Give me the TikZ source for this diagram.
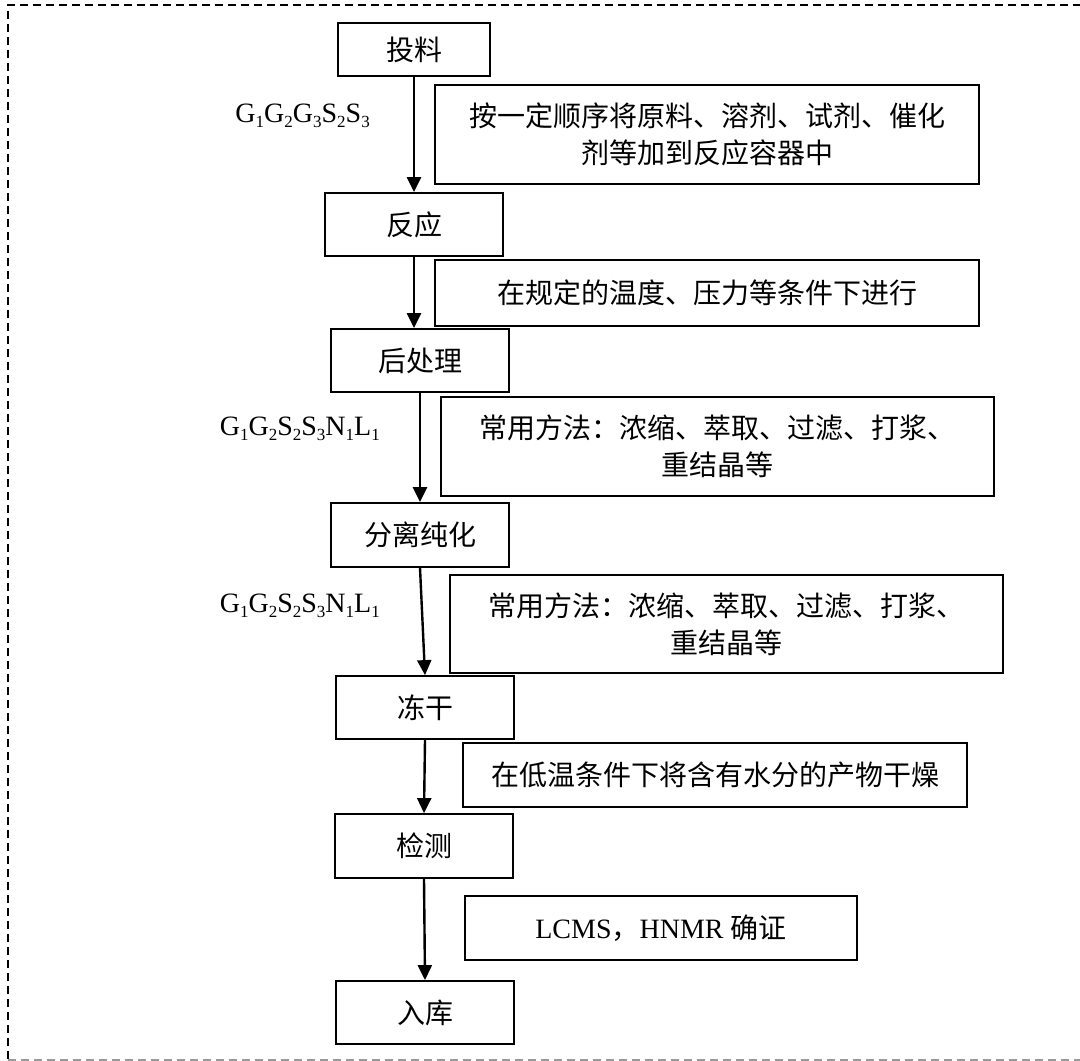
\documentclass[tikz,border=0pt]{standalone}
\usepackage{fontspec}
\setmainfont{Liberation Serif}
\newfontfamily\cjk{Noto Sans CJK SC}
\usetikzlibrary{arrows.meta}
\newcommand\sbs[1]{\raisebox{-0.18em}{\fontsize{17bp}{17bp}\selectfont #1}}
\begin{document}
\begin{tikzpicture}[x=1bp,y=-1bp,
  every node/.style={font=\fontsize{28bp}{37bp}\selectfont},
  stepbox/.style={draw,line width=1.8bp,minimum width=178bp,minimum height=63bp,inner sep=0pt,font=\cjk\fontsize{28bp}{37bp}\selectfont},
  notebox/.style={draw,line width=1.8bp,inner sep=0pt,align=center,font=\cjk\fontsize{28bp}{37bp}\selectfont},
  flow/.style={line width=2.4bp,-{Triangle[length=15bp,width=14bp]}},
  lbl/.style={anchor=base east,inner sep=0pt}]
\useasboundingbox (0,0) rectangle (1080,1061);
% frame
\draw[line width=1.6bp,dash pattern=on 8bp off 5bp] (8,1059) -- (8,5) -- (1080,5);
\draw[line width=1.2bp,gray!80,dash pattern=on 8bp off 5bp] (8,1060) -- (1080,1060);
% steps
\node[stepbox,minimum width=152bp,minimum height=53bp] (n1) at (414,49.5) {投料};
\node[stepbox] (n2) at (414,224.5) {反应};
\node[stepbox] (n3) at (420,360.5) {后处理};
\node[stepbox,minimum height=64bp] (n4) at (420,535) {分离纯化};
\node[stepbox] (n5) at (425,707.5) {冻干};
\node[stepbox,minimum height=64bp] (n6) at (424,846) {检测};
\node[stepbox] (n7) at (425,1012.5) {入库};
% notes
\node[notebox,minimum width=544bp,minimum height=99bp] (m1) at (707,134.5) {按一定顺序将原料、溶剂、试剂、催化\\剂等加到反应容器中};
\node[notebox,minimum width=544bp,minimum height=66bp] (m2) at (707,293) {在规定的温度、压力等条件下进行};
\node[notebox,minimum width=553bp,minimum height=99bp] (m3) at (717.5,446.5) {常用方法：浓缩、萃取、过滤、打浆、\\重结晶等};
\node[notebox,minimum width=553bp,minimum height=98bp] (m4) at (726.5,624) {常用方法：浓缩、萃取、过滤、打浆、\\重结晶等};
\node[notebox,minimum width=504bp,minimum height=64bp] (m5) at (715,775) {在低温条件下将含有水分的产物干燥};
\node[notebox,minimum width=392bp,minimum height=64bp] (m6) at (661,928) {\rmfamily LCMS{\cjk ，}HNMR {\cjk 确证}};
% labels
\node[lbl] (l1) at (370,122) {G\sbs{1}G\sbs{2}G\sbs{3}S\sbs{2}S\sbs{3}};
\node[lbl] (l2) at (380,435) {G\sbs{1}G\sbs{2}S\sbs{2}S\sbs{3}N\sbs{1}L\sbs{1}};
\node[lbl] (l3) at (380,612) {G\sbs{1}G\sbs{2}S\sbs{2}S\sbs{3}N\sbs{1}L\sbs{1}};
% arrows
\draw[flow] (n1.south) -- (n2.north);
\draw[flow] (n2.south) -- (n3.north -| n2.south);
\draw[flow] (n3.south) -- (n4.north);
\draw[flow] (n4.south) -- (n5.north);
\draw[flow] (n5.south) -- (n6.north);
\draw[flow] (n6.south) -- (n7.north);
\end{tikzpicture}
\end{document}
